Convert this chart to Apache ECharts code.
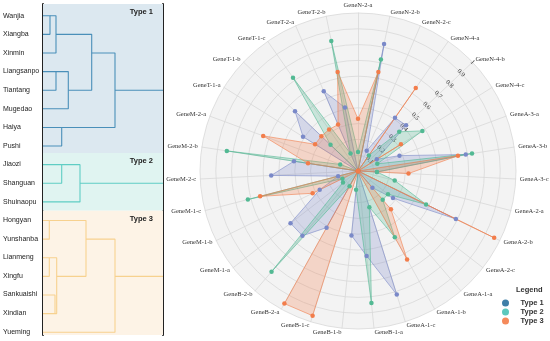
<!DOCTYPE html>
<html><head><meta charset="utf-8">
<script src="https://cdn.jsdelivr.net/npm/echarts@6/dist/echarts.min.js"></script>
<style>html,body{margin:0;padding:0;background:#fff}#c{width:550px;height:341px}</style>
</head><body><div id="c"></div>
<script>
// ---- radar data (clockwise from top) ----
const categories = ['GeneN-2-a','GeneN-2-b','GeneN-2-c','GeneN-4-a','GeneN-4-b','GeneN-4-c',
  'GeneA-3-a','GeneA-3-b','GeneA-3-c','GeneA-2-a','GeneA-2-b','GeneA-2-c',
  'GeneA-1-a','GeneA-1-b','GeneA-1-c','GeneB-1-a','GeneB-1-b','GeneB-1-c',
  'GeneB-2-a','GeneB-2-b','GeneM-1-a','GeneM-1-b','GeneM-1-c','GeneM-2-c',
  'GeneM-2-b','GeneM-2-a','GeneT-1-a','GeneT-1-b','GeneT-1-c','GeneT-2-a','GeneT-2-b'];
const type1 = [0,0.82,0.14,0.41,0.42,0.14, 0.28,0.69,0.12,0,0.69,0.28, 0.14,0,0.82,0.54,0.41,0,
  0.41,0.54,0.54,0.27,0.13,0.55, 0.41,0,0.41,0.55,0,0.55,0.41];
const type2 = [0.12,0.72,0,0.12,0.36,0.48, 0.13,0.73,0.12,0.24,0.48,0.24, 0.24,0.48,0.24,0.84,0.12,0,
  0.11,0.84,0.12,0.11,0.72,0, 0.84,0.12,0,0.24,0.72,0.12,0.84];
const type3 = [0.33,0.64,0,0.64,0,0.32, 0,0.64,0.32,0,0.96,0, 0.32,0.64,0,0,0,0.96,
  0.96,0,0,0.32,0.64,0, 0.32,0.64,0.32,0.32,0.32,0.32,0.64];
const radialMin = 0, radialMax = 1, radialStep = 0.1;
const seriesNames = ['Type 1','Type 2','Type 3'];

// ---- dendrogram data ----
const leaves = ['Wanjia','Xiangba','Xinmin','Liangsanpo','Tiantang','Mugedao','Haiya','Pushi',
  'Jiaozi','Shanguan','Shuinaopu','Hongyan','Yunshanba','Lianmeng','Xingfu','Sankuaishi','Xindian','Yueming'];
// link: [topLeaf, topFrom, bottomLeaf, bottomFrom, height]
const links1 = [[0,0,1,0,7],[0,7,2,0,13],[3,0,4,0,13],[3,13,5,0,25.3],[1,13,4,25.3,48.7],[6,0,7,0,18.7],[2,48.7,6,18.7,72]];
const links2 = [[8,0,9,0,18.7],[8,18.7,10,0,37]];
const links3 = [[11,0,12,0,6.3],[13,0,14,0,6.3],[15,0,16,0,12],[13,6.3,16,12,13.7],[11,6.3,14,13.7,43],[12,43,17,0,72]];
const roots = [[4,72],[9,37],[14,72]]; // [leaf row, from]
const maxHeight = 120;
const groupBounds = [[-0.63, 7.37],[7.37, 10.47],[10.47, 17.15]];

const dendroColors = ['#4a8fb9','#5fcdc4','#f7d18f'];
const bandColors = ['#dce8f0','#e0f4f1','#fdf3e6'];
const radarColors = ['#7a89c8','#52b993','#f27d4b'];
const legendColors = ['#3f7fa8','#5cc8bd','#f58a5b'];

const N = categories.length;
const order = categories.map((_, k) => (N - k) % N);

const dendroSeries = [];
[links1, links2, links3].forEach((links, g) => {
  links.forEach(l => {
    dendroSeries.push({type:'line', xAxisIndex:0, yAxisIndex:0, showSymbol:false, silent:true,
      lineStyle:{color:dendroColors[g], width:1.1}, data:[[l[1],l[0]],[l[4],l[0]],[l[4],l[2]],[l[3],l[2]]]});
  });
  dendroSeries.push({type:'line', xAxisIndex:0, yAxisIndex:0, showSymbol:false, silent:true,
    lineStyle:{color:dendroColors[g], width:1.1}, data:[[roots[g][1],roots[g][0]],[maxHeight,roots[g][0]]]});
});

const bandSeries = {type:'line', xAxisIndex:0, yAxisIndex:0, data:[], silent:true,
  markArea:{silent:true, data: groupBounds.map((b,g)=>[
    {yAxis:b[0], xAxis:0, itemStyle:{color:bandColors[g]},
     label:{show:true, position:'insideTopRight', formatter:seriesNames[g], distance:4, offset:[-6,0],
       fontSize:7.5, fontWeight:'bold', color:'#222', fontFamily:'Liberation Sans'}},
    {yAxis:b[1], xAxis:maxHeight}])}};

const radarSeries = [type1,type2,type3].map((arr,g)=>({
  type:'radar', name:seriesNames[g], symbol:'circle', symbolSize:4.5,
  itemStyle:{color:radarColors[g]}, lineStyle:{color:radarColors[g], width:0.8, opacity:0.75},
  areaStyle:{color:radarColors[g], opacity:0.26},
  data:[{name:seriesNames[g], value: order.map(i=>arr[i])}]
}));

const option = {
  animation:false,
  title:{text:'Legend', left:511, top:281, textStyle:{fontSize:7.5, fontWeight:'bold', color:'#333', fontFamily:'Liberation Sans'}},
  legend:{orient:'vertical', left:497, top:294, itemWidth:20, itemHeight:7, itemGap:1, icon:'circle',
    textStyle:{fontSize:7.5, fontWeight:'bold', color:'#333', fontFamily:'Liberation Sans'},
    data: seriesNames.map((n,g)=>({name:n, itemStyle:{color:legendColors[g]}}))},
  grid:[{left:43, width:120, top:4, height:331},
        {left:43, width:120, top:15.7-9.31, height:18*18.62}],
  xAxis:[{type:'value', gridIndex:0, min:0, max:maxHeight, show:false},
         {type:'value', gridIndex:1, min:0, max:maxHeight, show:false}],
  yAxis:[{type:'value', gridIndex:0, inverse:true, min:groupBounds[0][0], max:groupBounds[2][1], position:'left',
          axisLine:{show:true, lineStyle:{color:'#222', width:2}}, axisTick:{show:false}, axisLabel:{show:false}, splitLine:{show:false}},
         {type:'value', gridIndex:0, inverse:true, min:groupBounds[0][0], max:groupBounds[2][1], position:'right',
          axisLine:{show:true, lineStyle:{color:'#222', width:2}}, axisTick:{show:false}, axisLabel:{show:false}, splitLine:{show:false}},
         {type:'category', gridIndex:1, inverse:true, data:leaves, axisLine:{show:false}, axisTick:{show:false},
          axisLabel:{align:'left', margin:40, fontSize:7, color:'#222', fontFamily:'Liberation Sans'}}],
  radar:{center:[358,171], radius:158, startAngle:90, splitNumber:10, shape:'circle',
    indicator: order.map(i=>({name:categories[i], min:radialMin, max:radialMax})),
    axisName:{color:'#333', fontSize:6.5, fontFamily:'Liberation Serif'}, nameGap:4,
    splitLine:{lineStyle:{color:'#d8d8d8', width:0.8}},
    splitArea:{areaStyle:{color:['#f3f3f3']}},
    axisLine:{lineStyle:{color:'#d8d8d8', width:0.8}}},
  polar:{center:[358,171], radius:158},
  angleAxis:{type:'value', min:0, max:360, startAngle:90-360/N*4, show:false},
  radiusAxis:{type:'value', min:radialMin, max:radialMax, interval:radialStep, axisLine:{show:false}, axisTick:{show:false}, splitLine:{show:false},
    axisLabel:{rotate:-(360/N*4), margin:0, align:'center', verticalAlign:'middle', fontSize:6.5, color:'#333', fontFamily:'Liberation Serif',
      formatter:v=> v===0 ? '' : String(+v.toFixed(1))}},
  series:[bandSeries, ...dendroSeries, ...radarSeries]
};
const chart = echarts.init(document.getElementById('c'), null, {renderer:'canvas'});
chart.setOption(option);
</script></body></html>
